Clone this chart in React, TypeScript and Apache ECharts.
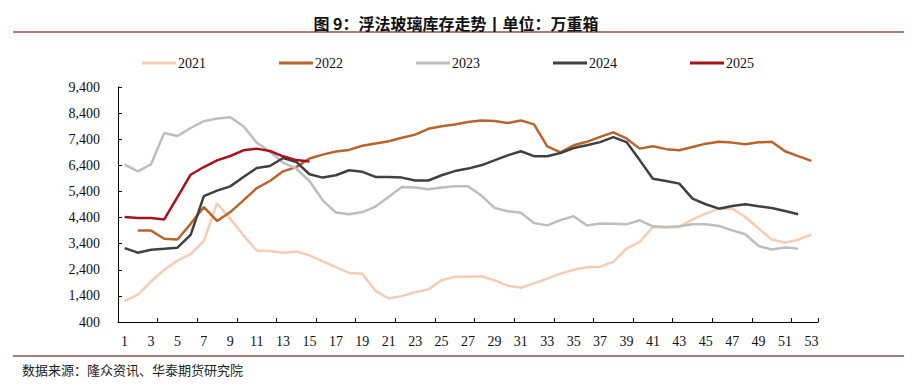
import React, { useEffect, useRef } from "react";
import * as echarts from "echarts";

const weeks: string[] = Array.from({ length: 53 }, (_, i) => String(i + 1));

const yTicks: number[] = [400, 1400, 2400, 3400, 4400, 5400, 6400, 7400, 8400, 9400];

const seriesNames: string[] = ["2021", "2022", "2023", "2024", "2025"];

const y2021: (number | null)[] = [
  1200, 1450, 1950, 2400, 2750, 3000, 3500, 4950, 4350, 3720,
  3140, 3120, 3050, 3100, 2950, 2720, 2500, 2280, 2250, 1590,
  1300, 1400, 1540, 1650, 2000, 2130, 2130, 2150, 2000, 1790,
  1710, 1880, 2060, 2250, 2400, 2500, 2520, 2700, 3210, 3470,
  4040, 4020, 4040, 4330, 4550, 4740, 4740, 4420, 3980, 3560,
  3440, 3550, 3750,
];

const y2022: (number | null)[] = [
  null, 3900, 3900, 3590, 3560, 4160, 4800, 4270, 4610, 5060,
  5530, 5800, 6170, 6330, 6660, 6810, 6930, 6990, 7150, 7240,
  7320, 7455, 7575, 7800, 7900, 7960, 8060, 8120, 8100, 8020,
  8120, 7970, 7130, 6900, 7170, 7300, 7490, 7660, 7430, 7040,
  7130, 7020, 6980, 7100, 7230, 7300, 7270, 7210, 7280, 7300,
  6940, 6750, 6570,
];

const y2023: (number | null)[] = [
  6430, 6170, 6440, 7640, 7520, 7830, 8090, 8190, 8240, 7900,
  7270, 6930, 6500, 6270, 5800, 5060, 4590, 4525, 4610, 4820,
  5200, 5570, 5550, 5480, 5550, 5600, 5600, 5250, 4770, 4640,
  4580, 4190, 4100, 4300, 4450, 4100, 4170, 4160, 4140, 4295,
  4065, 4040, 4065, 4140, 4140, 4080, 3910, 3760, 3310, 3175,
  3250, 3210, null,
];

const y2024: (number | null)[] = [
  3230, 3055, 3170, 3205, 3245, 3740, 5220, 5430, 5595, 5950,
  6300, 6375, 6680, 6530, 6060, 5930, 6020, 6210, 6150, 5955,
  5955, 5930, 5820, 5820, 6020, 6180, 6275, 6400, 6590, 6780,
  6940, 6750, 6750, 6870, 7065, 7170, 7290, 7480, 7290, 6600,
  5890, 5800, 5700, 5125, 4910, 4740, 4845, 4910, 4830, 4765,
  4650, 4525, null,
];

const y2025: (number | null)[] = [
  4420, 4380, 4380, 4330, 5185, 6040, 6335, 6590, 6757, 6974,
  7040, 6950, 6745, 6600, 6550,
];

const seriesData = [y2021, y2022, y2023, y2024, y2025];
const seriesColors = ["#F5CDB7", "#B7652C", "#BEBEBE", "#404040", "#A8121A"];

const serif = "'Liberation Serif', 'Times New Roman', serif";
const cjk = "'Noto Sans CJK SC', sans-serif";

export default function App() {
  const ref = useRef<HTMLDivElement>(null);

  useEffect(() => {
    if (!ref.current) return;
    const chart = echarts.init(ref.current, undefined, { renderer: "svg" });
    const option: any = {
      animation: false,
      backgroundColor: "#ffffff",
      title: {
        text: "图 9：浮法玻璃库存走势丨单位：万重箱",
        left: "center",
        top: 10,
        textStyle: {
          fontFamily: cjk,
          fontSize: 16,
          fontWeight: "bold",
          color: "#111111",
        },
      },
      legend: {
        data: seriesNames,
        left: 137,
        top: 51,
        icon: "rect",
        itemWidth: 34,
        itemHeight: 3,
        itemGap: 73,
        textStyle: { fontFamily: serif, fontSize: 14, color: "#111111", padding: [0, 0, 0, -3] },
      },
      grid: { left: 118, right: 94, top: 87, bottom: 65, containLabel: false },
      xAxis: {
        type: "category",
        data: weeks,
        boundaryGap: true,
        axisLine: { lineStyle: { color: "#000000", width: 1 } },
        axisTick: { show: true, inside: true, length: 4, interval: 2, alignWithLabel: false, lineStyle: { color: "#000000" } },
        axisLabel: { interval: 1, fontFamily: serif, fontSize: 14, color: "#111111", margin: 12 },
        splitLine: { show: false },
      },
      yAxis: {
        type: "value",
        min: 400,
        max: 9400,
        axisLine: { show: true, lineStyle: { color: "#000000", width: 1 } },
        axisTick: { show: true, inside: true, length: 4, customValues: yTicks, lineStyle: { color: "#000000" } },
        axisLabel: {
          customValues: yTicks,
          fontFamily: serif,
          fontSize: 14,
          color: "#111111",
          margin: 18,
          formatter: (v: number) => v.toLocaleString("en-US"),
        },
        splitLine: { show: false },
      },
      series: seriesNames.map((name, i) => ({
        name,
        type: "line",
        data: seriesData[i],
        symbol: "none",
        connectNulls: false,
        z: i === 4 ? 10 : 2 + i,
        lineStyle: { color: seriesColors[i], width: 2.5 },
        itemStyle: { color: seriesColors[i] },
      })),
      graphic: [
        {
          type: "line",
          shape: { x1: 13, y1: 32, x2: 904, y2: 32 },
          style: { stroke: "#A67F7A", lineWidth: 2 },
        },
        {
          type: "line",
          shape: { x1: 13, y1: 356, x2: 904, y2: 356 },
          style: { stroke: "#A67F7A", lineWidth: 2 },
        },
        {
          type: "text",
          x: 22,
          y: 369,
          style: {
            text: "数据来源：隆众资讯、华泰期货研究院",
            fontFamily: cjk,
            fontSize: 13,
            fill: "#222222",
            verticalAlign: "middle",
          },
        },
      ],
    };
    chart.setOption(option);
    return () => chart.dispose();
  }, []);

  return (
    <div
      ref={ref}
      style={{ width: 912, height: 387, position: "absolute", left: 0, top: 0, background: "#fff" }}
    />
  );
}
